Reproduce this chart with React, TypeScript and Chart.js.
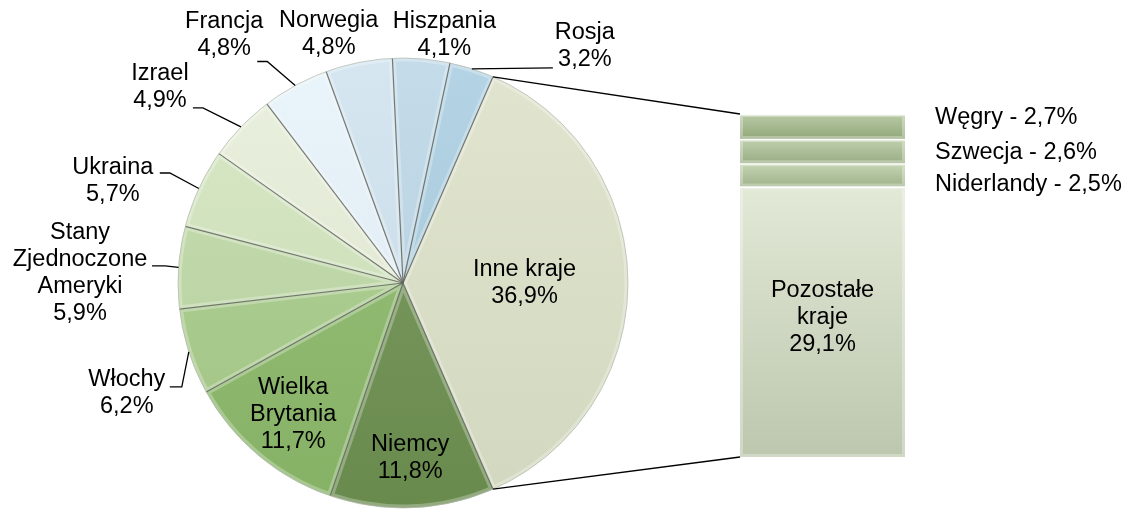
import React, { useEffect, useRef } from "react";
import { Chart, registerables } from "chart.js";

Chart.register(...registerables);

// ---------------- data ----------------
const pieLabels = [
  "Inne kraje",
  "Niemcy",
  "Wielka Brytania",
  "Włochy",
  "Stany Zjednoczone Ameryki",
  "Ukraina",
  "Izrael",
  "Francja",
  "Norwegia",
  "Hiszpania",
  "Rosja",
];
const pieValues = [36.9, 11.8, 11.7, 6.2, 5.9, 5.7, 4.9, 4.8, 4.8, 4.1, 3.2];
const pieLabelLines = [
  ["Inne kraje"],
  ["Niemcy"],
  ["Wielka", "Brytania"],
  ["Włochy"],
  ["Stany", "Zjednoczone", "Ameryki"],
  ["Ukraina"],
  ["Izrael"],
  ["Francja"],
  ["Norwegia"],
  ["Hiszpania"],
  ["Rosja"],
];

const barLabels = ["Pozostałe kraje", "Niderlandy", "Szwecja", "Węgry"];
const barValues = [29.1, 2.5, 2.6, 2.7];
const barInsideLines = ["Pozostałe", "kraje"];

// ---------------- styles / layout ----------------
const pieColors = [
  "#dde2c9",
  "#6e9151",
  "#8cba6a",
  "#a9cd8b",
  "#bfdaa6",
  "#d3e5be",
  "#e6eed8",
  "#e6f2fa",
  "#cfe3ef",
  "#bcd7e7",
  "#aacee1",
];
const barColors = ["#d2ddc1", "#b2c79a", "#aac093", "#a2b988"];

// label placement relative to the slice's outer edge anchor (mid angle)
type Lay = { inside?: number; dx?: number; dy?: number; leader?: number[][] };
const pieLabelLayout: Lay[] = [
  { inside: 0.54 },
  { inside: 0.78 },
  { inside: 0.76 },
  { dx: -62, dy: 41.5, leader: [[0, 0], [-7, 35], [-19, 35]] },
  { dx: -98.5, dy: 5.5, leader: [[0, 0], [-13.5, -1.5], [-26.5, -1.5]] },
  { dx: -86, dy: -7.5, leader: [[0, 0], [-29, -15.5], [-39, -15.5]] },
  { dx: -81, dy: -40, leader: [[0, 0], [-38, -19], [-48, -19]] },
  { dx: -71, dy: -50, leader: [[0, 0], [-28, -24], [-38, -24]] },
  { dx: -30, dy: -28 },
  { dx: 23, dy: -24 },
  { dx: 113, dy: -23, leader: [[0, 0], [81, -1]] },
];
const barRightLabelDy = [0, 10, 1.5, -9];

const FONT = '23.5px "Liberation Sans", Arial, sans-serif';
const LINE_H = 27;

const fmt = (v: number) => v.toFixed(1).replace(".", ",") + "%";

function mix(hex: string, target: number, amt: number) {
  const n = parseInt(hex.slice(1), 16);
  const r = (n >> 16) & 255,
    g = (n >> 8) & 255,
    b = n & 255;
  const f = (c: number) => Math.round(c + (target - c) * amt);
  return `rgb(${f(r)},${f(g)},${f(b)})`;
}

function drawLines(ctx: CanvasRenderingContext2D, lines: string[], cx: number, cy: number, align: CanvasTextAlign = "center") {
  ctx.save();
  ctx.font = FONT;
  ctx.fillStyle = "#000";
  ctx.textAlign = align;
  ctx.textBaseline = "middle";
  lines.forEach((t, i) => {
    ctx.fillText(t, cx, cy + (i - (lines.length - 1) / 2) * LINE_H);
  });
  ctx.restore();
}

const pieTotal = pieValues.reduce((a, b) => a + b, 0);
const barTotal = barValues.reduce((a, b) => a + b, 0);

export default function App() {
  const pieRef = useRef<HTMLCanvasElement>(null);
  const barRef = useRef<HTMLCanvasElement>(null);

  useEffect(() => {
    const pieDecor = {
      id: "pieDecor",
      afterDatasetsDraw(chart: any) {
        const ctx: CanvasRenderingContext2D = chart.ctx;
        const meta = chart.getDatasetMeta(0);
        meta.data.forEach((arc: any) => {
          const { x, y, startAngle, endAngle, outerRadius } = arc.getProps(
            ["x", "y", "startAngle", "endAngle", "outerRadius"],
            true
          );
          ctx.save();
          ctx.beginPath();
          ctx.moveTo(x, y);
          ctx.arc(x, y, outerRadius, startAngle, endAngle);
          ctx.closePath();
          ctx.clip();
          ctx.strokeStyle = "rgba(255,255,255,0.28)";
          ctx.lineWidth = 7;
          ctx.stroke();
          ctx.restore();
        });
        // separators
        meta.data.forEach((arc: any) => {
          const { x, y, startAngle, outerRadius } = arc.getProps(
            ["x", "y", "startAngle", "outerRadius"],
            true
          );
          ctx.save();
          ctx.strokeStyle = "rgba(95,100,92,0.85)";
          ctx.lineWidth = 1.2;
          ctx.beginPath();
          ctx.moveTo(x, y);
          ctx.lineTo(x + Math.cos(startAngle) * outerRadius, y + Math.sin(startAngle) * outerRadius);
          ctx.stroke();
          ctx.restore();
        });
        const a0 = meta.data[0];
        if (a0) {
          ctx.save();
          ctx.strokeStyle = "rgba(175,182,170,0.7)";
          ctx.lineWidth = 1;
          ctx.beginPath();
          ctx.arc(a0.x, a0.y, a0.outerRadius, 0, Math.PI * 2);
          ctx.stroke();
          ctx.restore();
        }
      },
      afterDraw(chart: any) {
        const ctx: CanvasRenderingContext2D = chart.ctx;
        const meta = chart.getDatasetMeta(0);
        meta.data.forEach((arc: any, i: number) => {
          const { x, y, startAngle, endAngle, outerRadius } = arc.getProps(
            ["x", "y", "startAngle", "endAngle", "outerRadius"],
            true
          );
          const mid = (startAngle + endAngle) / 2;
          const lay = pieLabelLayout[i];
          const lines = [...pieLabelLines[i], fmt(pieValues[i])];
          if (lay.inside != null) {
            const r = outerRadius * lay.inside;
            drawLines(ctx, lines, x + Math.cos(mid) * r, y + Math.sin(mid) * r);
          } else {
            const ax = x + Math.cos(mid) * outerRadius;
            const ay = y + Math.sin(mid) * outerRadius;
            if (lay.leader) {
              ctx.save();
              ctx.strokeStyle = "#000";
              ctx.lineWidth = 1.3;
              ctx.beginPath();
              lay.leader.forEach((p, k) => {
                if (k === 0) ctx.moveTo(ax + p[0], ay + p[1]);
                else ctx.lineTo(ax + p[0], ay + p[1]);
              });
              ctx.stroke();
              ctx.restore();
            }
            drawLines(ctx, lines, ax + (lay.dx || 0), ay + (lay.dy || 0));
          }
        });
      },
    };

    const pieChart = new Chart(pieRef.current!, {
      type: "pie",
      data: {
        labels: pieLabels,
        datasets: [
          {
            data: pieValues,
            borderWidth: 0,
            backgroundColor: (c: any) => {
              const base = pieColors[c.dataIndex % pieColors.length];
              const area = c.chart.chartArea;
              if (!area) return base;
              const g = c.chart.ctx.createLinearGradient(0, area.top, 0, area.bottom);
              g.addColorStop(0, mix(base, 255, 0.12));
              g.addColorStop(1, mix(base, 0, 0.05));
              return g;
            },
          },
        ],
      },
      options: {
        responsive: false,
        animation: false,
        events: [],
        rotation: 90 - ((pieValues[0] / pieTotal) * 360) / 2,
        layout: { padding: { left: 178, right: 517, top: 58, bottom: 3 } },
        plugins: { legend: { display: false }, tooltip: { enabled: false } },
      },
      plugins: [pieDecor],
    } as any);

    const barDecor = {
      id: "barDecor",
      afterDatasetsDraw(chart: any) {
        const ctx: CanvasRenderingContext2D = chart.ctx;
        chart.data.datasets.forEach((_: any, di: number) => {
          const el: any = chart.getDatasetMeta(di).data[0];
          if (!el) return;
          const { x, y, base, width } = el.getProps(["x", "y", "base", "width"], true);
          const l = x - width / 2;
          const top = Math.min(y, base);
          const h = Math.abs(base - y);
          ctx.save();
          ctx.beginPath();
          ctx.rect(l, top, width, h);
          ctx.clip();
          ctx.strokeStyle = "rgba(255,255,255,0.3)";
          ctx.lineWidth = 6;
          ctx.stroke();
          ctx.strokeStyle = "rgba(255,255,255,0.95)";
          ctx.lineWidth = 1.5;
          ctx.beginPath();
          ctx.moveTo(l, top + 0.75);
          ctx.lineTo(l + width, top + 0.75);
          ctx.stroke();
          ctx.restore();
        });
      },
      afterDraw(chart: any) {
        const ctx: CanvasRenderingContext2D = chart.ctx;
        const n = chart.data.datasets.length;
        const first: any = chart.getDatasetMeta(0).data[0];
        const last: any = chart.getDatasetMeta(n - 1).data[0];
        // connectors
        const pa: any = pieChart.getDatasetMeta(0).data[0];
        if (pa && first && last) {
          const { x, y, startAngle, endAngle, outerRadius } = pa.getProps(
            ["x", "y", "startAngle", "endAngle", "outerRadius"],
            true
          );
          const bl = first.x - first.width / 2;
          ctx.save();
          ctx.strokeStyle = "#000";
          ctx.lineWidth = 1.3;
          ctx.beginPath();
          ctx.moveTo(x + Math.cos(startAngle) * outerRadius, y + Math.sin(startAngle) * outerRadius);
          ctx.lineTo(bl, last.y);
          ctx.moveTo(x + Math.cos(endAngle) * outerRadius, y + Math.sin(endAngle) * outerRadius);
          ctx.lineTo(bl, first.base);
          ctx.stroke();
          ctx.restore();
        }
        // labels
        chart.data.datasets.forEach((_: any, di: number) => {
          const el: any = chart.getDatasetMeta(di).data[0];
          if (!el) return;
          const cy = (el.y + el.base) / 2;
          if (di === 0) {
            drawLines(ctx, [...barInsideLines, fmt(barValues[di])], el.x, cy - 4);
          } else {
            drawLines(
              ctx,
              [barLabels[di] + " - " + fmt(barValues[di])],
              el.x + el.width / 2 + 30,
              cy + barRightLabelDy[di],
              "left"
            );
          }
        });
      },
    };

    const barChart = new Chart(barRef.current!, {
      type: "bar",
      data: {
        labels: [""],
        datasets: barValues.map((v, i) => ({
          label: barLabels[i],
          data: [v],
          borderWidth: 0,
          barPercentage: 1,
          categoryPercentage: 1,
          backgroundColor: (c: any) => {
            const base = barColors[i];
            const el = c.chart.getDatasetMeta(c.datasetIndex).data[0];
            if (!el || el.y == null || isNaN(el.y)) return base;
            const g = c.chart.ctx.createLinearGradient(0, el.y, 0, el.base);
            g.addColorStop(0, mix(base, 255, i === 0 ? 0.35 : 0.25));
            g.addColorStop(1, mix(base, 0, 0.1));
            return g;
          },
        })),
      },
      options: {
        responsive: false,
        animation: false,
        events: [],
        layout: { padding: { left: 740, right: 240, top: 114, bottom: 54 } },
        scales: {
          x: { stacked: true, display: false },
          y: { stacked: true, display: false, min: 0, max: barTotal },
        },
        plugins: { legend: { display: false }, tooltip: { enabled: false } },
      },
      plugins: [barDecor],
    } as any);
    barChart.update();

    return () => {
      barChart.destroy();
      pieChart.destroy();
    };
  }, []);

  const cs: React.CSSProperties = { position: "absolute", left: 0, top: 0, width: 1145, height: 511 };
  return (
    <div style={{ position: "absolute", left: 0, top: 0, width: 1145, height: 511, background: "#fff" }}>
      <canvas ref={pieRef} width={1145} height={511} style={cs} />
      <canvas ref={barRef} width={1145} height={511} style={cs} />
    </div>
  );
}
